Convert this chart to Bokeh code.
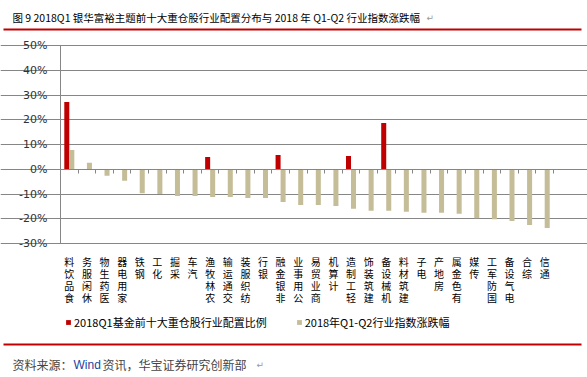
import numpy as np
from bokeh.plotting import figure
from bokeh.models import (Range1d, LinearAxis, FixedTicker, PrintfTickFormatter, CustomJSTickFormatter,
                          Label, BoxAnnotation, Legend, LegendItem, ColumnDataSource, Grid)
from bokeh.transform import dodge
from bokeh.embed import file_html
from bokeh.resources import INLINE

# ---- data ----
industries = ["食品饮料", "休闲服务", "医药生物", "家用电器", "钢铁", "化工", "采掘", "汽车",
              "农林牧渔", "交通运输", "纺织服装", "银行", "非银金融", "公用事业", "商业贸易", "计算机",
              "轻工制造", "建筑装饰", "机械设备", "建筑材料", "电子", "房地产", "有色金属", "传媒",
              "国防军工", "电气设备", "综合", "通信"]
fund_alloc = [27.2, 0, 0, 0, 0, 0, 0, 0,
              5.0, 0, 0, 0, 5.8, 0, 0, 0,
              5.4, 0, 18.7, 0, 0, 0, 0, 0,
              0, 0, 0, 0]
index_change = [7.8, 2.6, -2.6, -4.6, -9.7, -10.0, -10.8, -10.8,
                -11.2, -11.2, -11.6, -11.6, -13.2, -14.4, -14.4, -14.8,
                -16.0, -16.8, -16.8, -17.2, -17.6, -17.6, -18.0, -19.8,
                -20.2, -20.9, -22.5, -23.7]
y_ticks = [-30, -20, -10, 0, 10, 20, 30, 40, 50]
series_names = ["2018Q1基金前十大重仓股行业配置比例", "2018年Q1-Q2行业指数涨跌幅"]
title_text = "图 9  2018Q1 银华富裕主题前十大重仓股行业配置分布与 2018 年 Q1-Q2 行业指数涨跌幅"
source_text_1 = "资料来源："
source_text_2 = "Wind"
source_text_3 = "资讯，华宝证券研究创新部"
para_mark = "↵"

RED = "#C00000"
TAN = "#C4BD97"
GRID = "#868686"
CJK = "Noto Sans CJK SC"

# ---- page geometry (pixels) ----
W, H = 587, 377
PL, PR, PT, PB = 60, 553, 45, 243      # plot area inside the canvas

n = len(industries)
y_lo, y_hi = y_ticks[0], y_ticks[-1]
ux = (PR - PL) / n
uy = (PB - PT) / (y_hi - y_lo)
x_range = Range1d(-PL / ux, n + (W - PR) / ux)
y_range = Range1d(y_lo - (H - PB) / uy, y_hi + PT / uy)

pos = np.arange(n) + 0.5          # category centres
src = ColumnDataSource(dict(pos=pos, industry=industries, fund=fund_alloc, idx=index_change))

p = figure(width=W, height=H, x_range=x_range, y_range=y_range,
           output_backend="svg", toolbar_location=None,
           x_axis_location=None, y_axis_location=None, min_border=0)
p.outline_line_color = None
p.background_fill_color = "white"
p.border_fill_color = "white"
for g in p.grid:
    g.visible = False

p.add_layout(Grid(dimension=1, ticker=FixedTicker(ticks=y_ticks), bounds=(0, n),
                  grid_line_color=GRID, grid_line_width=1))

bw = 0.285
r1 = p.vbar(x=dodge("pos", -bw / 2), top="fund", bottom=0, width=bw,
            source=src, fill_color=RED, line_color=None)
r2 = p.vbar(x=dodge("pos", bw / 2), top="idx", bottom=0, width=bw,
            source=src, fill_color=TAN, line_color=None)

# y axis
yaxis = LinearAxis(fixed_location=0, bounds=(y_lo, y_hi), ticker=FixedTicker(ticks=y_ticks),
                   formatter=PrintfTickFormatter(format="%d%%"),
                   axis_line_color=GRID, major_tick_line_color=GRID,
                   major_tick_in=0, major_tick_out=3, minor_tick_line_color=None,
                   major_label_text_font="DejaVu Sans", major_label_text_font_size="11px",
                   major_label_text_color="#333333", major_label_standoff=10)
p.add_layout(yaxis, "left")

# category labels (stacked vertically, read bottom-to-top as in the source)
stacked = ["\n".join(reversed(name)) for name in industries]
label_axis = LinearAxis(fixed_location=y_lo, bounds=(0, n), ticker=FixedTicker(ticks=list(pos)),
                        formatter=CustomJSTickFormatter(args=dict(labels=stacked),
                                                        code="return labels[Math.floor(tick)];"),
                        axis_line_color=None, major_tick_line_color=None,
                        major_tick_in=0, major_tick_out=0, minor_tick_line_color=None,
                        major_label_standoff=10, major_label_orientation="horizontal",
                        major_label_text_font=CJK, major_label_text_font_size="10px",
                        major_label_text_color="#000000", major_label_text_line_height=0.8)
p.add_layout(label_axis, "below")

# zero-line axis with ticks at category boundaries (minor ticks carry no labels)
zero_axis = LinearAxis(fixed_location=0, bounds=(0, n),
                       ticker=FixedTicker(ticks=[], minor_ticks=list(range(n + 1))),
                       major_tick_line_color=None, minor_tick_in=0, minor_tick_out=4,
                       minor_tick_line_color=GRID, axis_line_color=GRID)
p.add_layout(zero_axis, "below")

# legend
legend = Legend(items=[LegendItem(label=series_names[0], renderers=[r1]),
                       LegendItem(label=series_names[1], renderers=[r2])],
                orientation="horizontal", location=(65, H - 330),
                glyph_width=6, glyph_height=6, label_standoff=3, spacing=29,
                padding=0, margin=0, label_height=12,
                label_text_font=CJK, label_text_font_size="11px", label_text_color="#000000",
                border_line_color=None, background_fill_alpha=0)
p.add_layout(legend, "center")

# title, red rules, source note
p.add_layout(Label(x=12, y=H - 17, x_units="screen", y_units="screen", text=title_text,
                   text_font=CJK, text_font_size="10.5px", text_baseline="middle",
                   text_color="#000000"))
p.add_layout(Label(x=426, y=H - 17, x_units="screen", y_units="screen", text=para_mark,
                   text_font="DejaVu Sans", text_font_size="9px", text_baseline="middle",
                   text_color="#999999"))
p.add_layout(BoxAnnotation(left=3, right=581, bottom=H - 30, top=H - 28,
                           left_units="screen", right_units="screen",
                           bottom_units="screen", top_units="screen",
                           fill_color=RED, fill_alpha=1, line_color=None))
p.add_layout(BoxAnnotation(left=3, right=581, bottom=H - 345, top=H - 343,
                           left_units="screen", right_units="screen",
                           bottom_units="screen", top_units="screen",
                           fill_color=RED, fill_alpha=1, line_color=None))
p.add_layout(Label(x=12, y=H - 364, x_units="screen", y_units="screen", text=source_text_1,
                   text_font=CJK, text_font_size="12px", text_baseline="middle"))
p.add_layout(Label(x=73, y=H - 364, x_units="screen", y_units="screen", text=source_text_2,
                   text_font="Liberation Sans", text_font_size="12px", text_baseline="middle",
                   text_color="#1F3FA0"))
p.add_layout(Label(x=102, y=H - 364, x_units="screen", y_units="screen", text=source_text_3,
                   text_font=CJK, text_font_size="12px", text_baseline="middle"))
p.add_layout(Label(x=256, y=H - 364, x_units="screen", y_units="screen", text=para_mark,
                   text_font="DejaVu Sans", text_font_size="9px", text_baseline="middle",
                   text_color="#999999"))

open("out.html", "w").write(file_html(p, INLINE))
